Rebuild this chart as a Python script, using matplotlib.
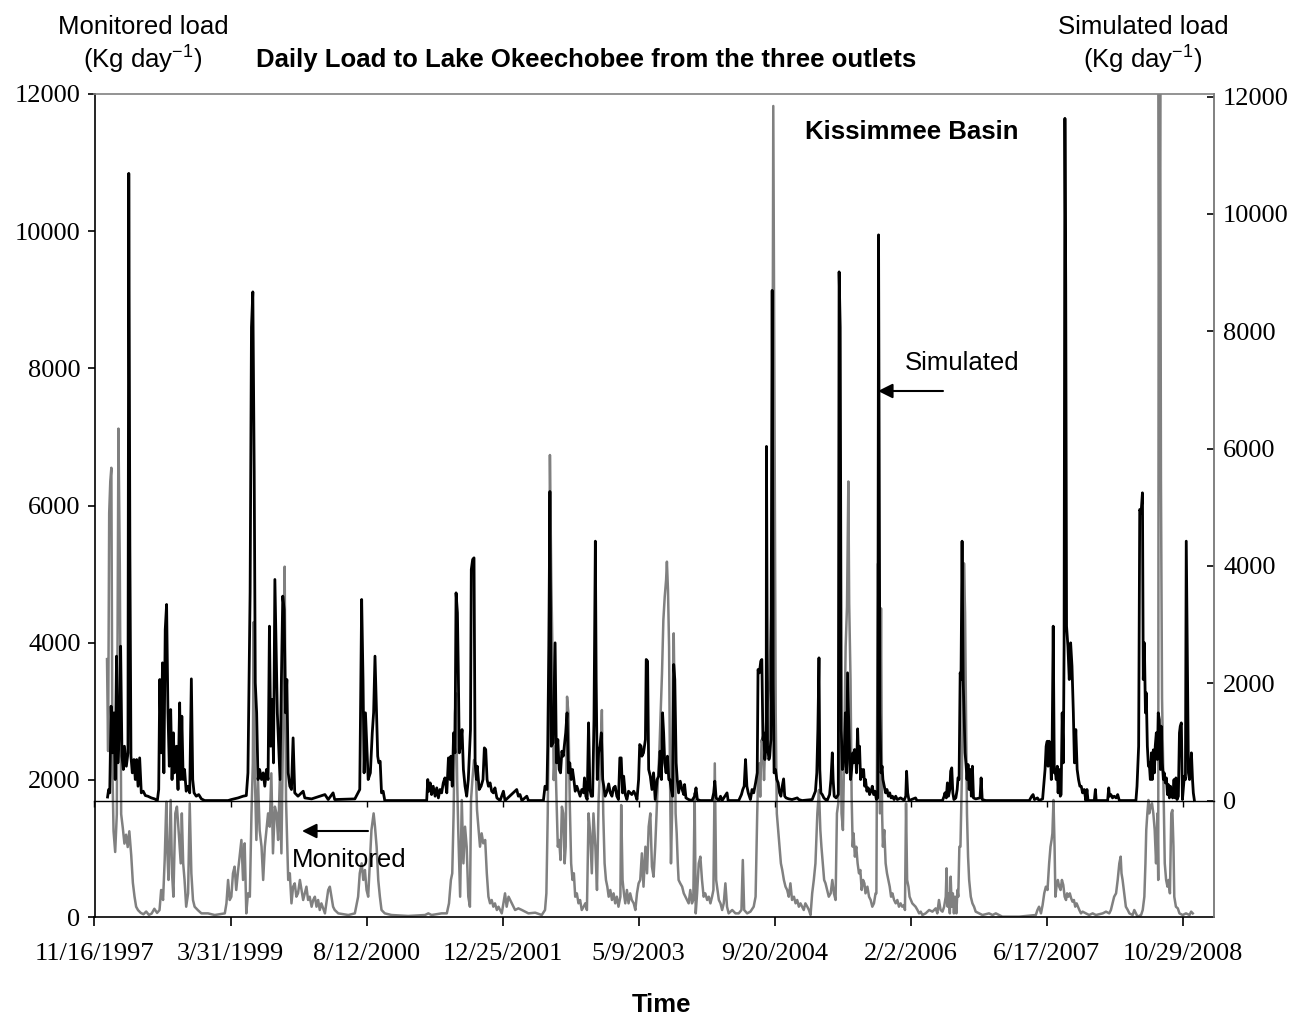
import numpy as np
import pandas as pd
import matplotlib
matplotlib.use('Agg')
import matplotlib.pyplot as plt

# series start date, values are (days since start, load in Kg/day)
start = pd.Timestamp('1997-11-16')
tick_step = 500   # days between date labels
n_ticks = 9
axis_days = 4115  # length of the time axis

# simulated load (right axis)
simulated = [
    (48, 60), (52, 188), (56, 131), (61, 1608), (66, 813), (71, 1495), (76, 358), (81, 2461),
    (86, 642), (91, 1154), (96, 2631), (101, 756), (106, 529), (110, 926), (117, 585), (123, 813),
    (126, 10690), (130, 4336), (134, 756), (139, 472), (145, 699), (150, 358), (155, 699), (160, 244),
    (166, 727), (172, 131), (179, 159), (187, 85), (196, 74), (209, 45), (221, 28), (231, 0),
    (236, 188), (240, 2063), (245, 813), (250, 2347), (255, 472), (260, 2915), (265, 3342), (270, 1495),
    (275, 585), (280, 1551), (285, 358), (290, 1154), (294, 472), (301, 926), (307, 188), (313, 1665),
    (317, 358), (321, 1438), (326, 358), (331, 529), (337, 159), (344, 244), (350, 131), (356, 2074),
    (361, 358), (366, 131), (374, 74), (383, 102), (393, 28), (405, 0), (491, 0), (503, 17),
    (528, 45), (546, 74), (558, 85), (564, 472), (568, 2006), (572, 3550), (577, 8070), (582, 8670),
    (587, 5600), (591, 2006), (596, 1495), (601, 358), (607, 529), (614, 358), (620, 472), (626, 244),
    (632, 529), (638, 358), (643, 2972), (648, 926), (653, 1722), (658, 642), (663, 3768), (667, 2745),
    (672, 1495), (677, 926), (682, 358), (687, 2063), (692, 3484), (697, 3256), (702, 1495), (707, 2063),
    (712, 472), (718, 244), (724, 188), (730, 1068), (736, 131), (748, 74), (761, 131), (767, 159),
    (773, 45), (798, 28), (847, 102), (859, 17), (877, 131), (883, 17), (957, 28), (975, 188),
    (982, 3427), (987, 2063), (991, 472), (996, 1495), (1006, 358), (1014, 472), (1021, 1154), (1026, 1500),
    (1031, 2461), (1041, 756), (1045, 642), (1050, 670), (1055, 131), (1061, 159), (1067, 0), (1221, 0),
    (1225, 358), (1229, 159), (1234, 301), (1239, 102), (1245, 244), (1252, 74), (1258, 216), (1264, 45),
    (1270, 188), (1276, 131), (1282, 301), (1288, 386), (1295, 131), (1301, 727), (1307, 358), (1310, 756),
    (1315, 244), (1320, 1154), (1325, 813), (1329, 3540), (1334, 3200), (1337, 2290), (1341, 813), (1346, 983),
    (1351, 1210), (1356, 529), (1362, 244), (1368, 74), (1374, 358), (1382, 1210), (1385, 3938), (1390, 4109),
    (1395, 4137), (1399, 642), (1404, 358), (1407, 585), (1414, 188), (1421, 244), (1428, 358), (1433, 898),
    (1438, 870), (1443, 358), (1448, 244), (1454, 301), (1460, 159), (1466, 131), (1472, 216), (1479, 45),
    (1491, 0), (1503, 159), (1509, 0), (1552, 188), (1558, 74), (1564, 102), (1571, 0), (1589, 74),
    (1595, 0), (1650, 0), (1656, 244), (1663, 188), (1666, 926), (1670, 2631), (1674, 5268), (1679, 926),
    (1686, 983), (1693, 2688), (1698, 642), (1703, 1040), (1708, 529), (1713, 472), (1718, 841), (1723, 756),
    (1728, 983), (1732, 1154), (1737, 1495), (1742, 472), (1747, 642), (1752, 358), (1757, 529), (1762, 358),
    (1767, 159), (1773, 244), (1779, 159), (1785, 74), (1791, 188), (1798, 131), (1801, 386), (1806, 74),
    (1811, 17), (1816, 1324), (1821, 188), (1826, 74), (1831, 74), (1836, 1381), (1841, 4421), (1844, 2063),
    (1848, 358), (1853, 813), (1858, 926), (1863, 1154), (1868, 358), (1872, 244), (1877, 74), (1884, 159),
    (1890, 284), (1896, 131), (1902, 74), (1908, 216), (1914, 244), (1920, 74), (1926, 17), (1931, 727),
    (1936, 727), (1941, 131), (1945, 415), (1951, 102), (1957, 17), (1963, 159), (1969, 131), (1975, 102),
    (1982, 159), (1988, 102), (1994, 17), (2000, 358), (2004, 955), (2009, 926), (2012, 756), (2018, 813),
    (2025, 1040), (2028, 2404), (2033, 2375), (2037, 529), (2043, 415), (2049, 188), (2055, 472), (2061, 17),
    (2068, 358), (2074, 415), (2079, 841), (2084, 358), (2088, 1495), (2092, 1154), (2096, 642), (2101, 472),
    (2106, 756), (2111, 358), (2115, 358), (2120, 188), (2125, 74), (2129, 2319), (2133, 2063), (2138, 642),
    (2142, 358), (2147, 131), (2153, 330), (2160, 188), (2166, 102), (2169, 273), (2174, 45), (2184, 17),
    (2196, 0), (2206, 74), (2211, 216), (2216, 17), (2227, 0), (2270, 0), (2276, 131), (2280, 330),
    (2285, 45), (2295, 0), (2301, 74), (2307, 0), (2325, 131), (2329, 0), (2368, 0), (2378, 102),
    (2383, 188), (2388, 244), (2393, 699), (2398, 244), (2403, 131), (2411, 17), (2417, 188), (2423, 131),
    (2430, 301), (2436, 472), (2439, 2233), (2444, 2177), (2449, 2375), (2453, 2404), (2457, 1040), (2460, 1154),
    (2464, 699), (2469, 983), (2470, 6036), (2474, 926), (2479, 699), (2482, 756), (2486, 1040), (2491, 8696),
    (2495, 2000), (2498, 472), (2503, 529), (2508, 358), (2513, 301), (2518, 131), (2523, 74), (2528, 244),
    (2533, 369), (2537, 74), (2542, 45), (2552, 28), (2564, 17), (2583, 45), (2589, 17), (2601, 0),
    (2638, 17), (2645, 102), (2650, 159), (2655, 472), (2659, 1210), (2663, 2432), (2666, 529), (2670, 131),
    (2675, 102), (2681, 45), (2687, 17), (2693, 0), (2702, 102), (2707, 358), (2712, 813), (2715, 358),
    (2719, 74), (2726, 45), (2734, 102), (2737, 9011), (2741, 8065), (2745, 1210), (2749, 529), (2752, 585),
    (2756, 756), (2760, 1495), (2765, 472), (2768, 2177), (2772, 1381), (2776, 642), (2779, 358), (2783, 529),
    (2787, 813), (2790, 642), (2794, 870), (2798, 756), (2801, 472), (2805, 1222), (2809, 642), (2812, 926),
    (2816, 358), (2820, 529), (2823, 415), (2827, 529), (2831, 244), (2834, 358), (2839, 159), (2844, 216),
    (2849, 102), (2854, 159), (2859, 244), (2864, 102), (2869, 159), (2874, 17), (2879, 45), (2882, 9642),
    (2887, 1495), (2891, 472), (2895, 585), (2898, 358), (2903, 244), (2908, 131), (2913, 188), (2918, 74),
    (2923, 131), (2928, 45), (2933, 74), (2939, 17), (2945, 74), (2951, 17), (2963, 45), (2976, 5),
    (2982, 74), (2985, 500), (2989, 131), (2994, 0), (3018, 45), (3023, 0), (3117, 0), (3123, 74),
    (3126, 131), (3131, 45), (3135, 301), (3139, 74), (3144, 188), (3147, 500), (3151, 557), (3155, 131),
    (3159, 17), (3166, 45), (3171, 188), (3174, 386), (3178, 358), (3182, 2177), (3185, 2063), (3189, 4421),
    (3193, 2063), (3196, 1495), (3200, 813), (3204, 585), (3207, 358), (3211, 614), (3215, 188), (3220, 529),
    (3223, 74), (3227, 585), (3231, 45), (3239, 28), (3255, 45), (3259, 386), (3263, 17), (3276, 0),
    (3436, 0), (3445, 74), (3450, 102), (3455, 17), (3466, 45), (3472, 0), (3485, 28), (3491, 358),
    (3494, 529), (3498, 926), (3502, 1011), (3505, 585), (3509, 1011), (3513, 870), (3517, 358), (3520, 926),
    (3524, 2972), (3528, 472), (3531, 529), (3535, 358), (3539, 585), (3542, 131), (3546, 529), (3550, 74),
    (3553, 102), (3557, 1495), (3561, 642), (3564, 2631), (3567, 11628), (3570, 8780), (3573, 2972), (3578, 2631),
    (3583, 2063), (3588, 2688), (3593, 2290), (3598, 1495), (3602, 642), (3607, 1210), (3612, 529), (3617, 358),
    (3622, 244), (3627, 244), (3632, 131), (3638, 188), (3644, 0), (3648, 188), (3652, 0), (3675, 0),
    (3679, 188), (3682, 0), (3724, 0), (3728, 216), (3731, 74), (3736, 102), (3742, 45), (3748, 74),
    (3755, 45), (3761, 102), (3767, 0), (3828, 0), (3832, 244), (3838, 926), (3842, 4961), (3847, 4904),
    (3852, 5245), (3855, 2063), (3859, 2688), (3863, 1495), (3866, 1835), (3870, 926), (3874, 585), (3877, 642),
    (3881, 358), (3885, 813), (3888, 358), (3892, 864), (3896, 472), (3899, 926), (3903, 1154), (3907, 699),
    (3910, 1495), (3914, 1381), (3918, 529), (3921, 1267), (3925, 642), (3929, 358), (3932, 472), (3936, 301),
    (3940, 386), (3944, 102), (3947, 273), (3951, 45), (3955, 244), (3958, 102), (3963, 45), (3968, 358),
    (3972, 45), (3975, 386), (3979, 17), (3984, 74), (3988, 1154), (3991, 1267), (3995, 1324), (3999, 17),
    (4002, 188), (4006, 415), (4010, 358), (4013, 4421), (4017, 2404), (4021, 472), (4025, 358), (4028, 472),
    (4032, 813), (4036, 358), (4039, 131), (4043, 0),
]

# monitored load (left axis)
monitored = [
    (46, 3760), (50, 2420), (54, 5890), (58, 6350), (62, 6550), (66, 2114), (70, 1254), (76, 948),
    (82, 1500), (88, 7121), (93, 5118), (98, 1500), (104, 1300), (110, 1070), (116, 1200), (122, 1020),
    (128, 1250), (135, 900), (141, 500), (147, 300), (153, 150), (160, 100), (170, 60), (180, 40),
    (190, 80), (200, 30), (210, 50), (220, 120), (230, 60), (239, 100), (245, 394), (252, 248),
    (258, 831), (264, 1680), (267, 1025), (272, 540), (280, 1706), (285, 637), (290, 296), (297, 1511),
    (303, 1609), (309, 1268), (317, 782), (321, 1511), (326, 782), (331, 540), (337, 150), (344, 345),
    (350, 1657), (356, 637), (362, 248), (368, 150), (380, 100), (393, 53), (417, 53), (442, 29),
    (479, 53), (485, 199), (491, 540), (497, 248), (503, 296), (509, 637), (515, 734), (521, 394),
    (528, 685), (540, 1123), (546, 540), (552, 1074), (558, 53), (564, 345), (571, 296), (577, 1511),
    (582, 2240), (585, 4300), (589, 2143), (595, 1123), (601, 1997), (607, 1268), (614, 1025), (620, 540),
    (626, 1025), (632, 1268), (638, 1511), (644, 1317), (650, 2095), (656, 928), (663, 1609), (669, 1511),
    (675, 1123), (681, 1997), (687, 928), (694, 2969), (699, 5108), (704, 1706), (712, 540), (718, 637),
    (724, 199), (730, 442), (736, 491), (742, 296), (748, 345), (755, 540), (761, 394), (767, 248),
    (773, 345), (779, 442), (785, 248), (791, 296), (798, 150), (804, 248), (810, 296), (816, 150),
    (822, 248), (828, 102), (834, 199), (847, 53), (859, 394), (865, 442), (871, 296), (877, 150),
    (883, 102), (896, 53), (933, 29), (957, 53), (969, 296), (975, 637), (982, 782), (988, 540),
    (994, 685), (1000, 394), (1006, 296), (1012, 782), (1018, 1268), (1026, 1511), (1031, 1317), (1037, 1025),
    (1043, 540), (1049, 296), (1055, 102), (1067, 53), (1092, 29), (1153, 15), (1215, 29), (1227, 53),
    (1239, 29), (1276, 53), (1295, 53), (1303, 199), (1310, 540), (1315, 637), (1320, 1511), (1325, 2969),
    (1329, 3261), (1333, 1997), (1337, 1268), (1344, 296), (1350, 1706), (1356, 782), (1362, 1317), (1368, 1025),
    (1374, 296), (1380, 150), (1384, 1706), (1389, 1997), (1395, 2289), (1401, 2240), (1406, 1560), (1411, 1317),
    (1417, 1025), (1423, 1220), (1429, 1074), (1436, 1123), (1442, 637), (1448, 296), (1454, 199), (1460, 248),
    (1466, 150), (1472, 199), (1479, 102), (1485, 150), (1497, 53), (1509, 345), (1515, 150), (1522, 296),
    (1534, 199), (1546, 102), (1558, 126), (1571, 102), (1583, 78), (1595, 53), (1620, 63), (1644, 29),
    (1656, 102), (1661, 345), (1666, 1511), (1670, 2969), (1674, 6736), (1679, 4913), (1683, 3942), (1688, 1997),
    (1693, 2483), (1698, 1754), (1703, 1025), (1708, 1123), (1713, 831), (1718, 1609), (1723, 1511), (1728, 782),
    (1732, 1025), (1737, 3212), (1742, 2969), (1747, 1657), (1752, 782), (1757, 540), (1762, 637), (1767, 296),
    (1773, 345), (1779, 199), (1785, 248), (1791, 102), (1798, 150), (1804, 199), (1810, 102), (1816, 1511),
    (1822, 1220), (1828, 637), (1834, 1511), (1841, 1025), (1847, 394), (1853, 1706), (1859, 2240), (1865, 3018),
    (1870, 1511), (1875, 782), (1880, 540), (1885, 442), (1890, 296), (1896, 394), (1902, 248), (1908, 345),
    (1914, 199), (1920, 296), (1926, 150), (1933, 296), (1936, 1633), (1941, 540), (1946, 345), (1951, 199),
    (1957, 394), (1963, 199), (1969, 345), (1975, 248), (1982, 199), (1988, 102), (1994, 345), (2000, 491),
    (2006, 540), (2012, 928), (2018, 442), (2025, 1025), (2031, 637), (2037, 1317), (2043, 1511), (2049, 734),
    (2055, 588), (2061, 1025), (2066, 1511), (2071, 1997), (2076, 2386), (2081, 2969), (2086, 3553), (2091, 4330),
    (2096, 4670), (2101, 4913), (2104, 5181), (2108, 4767), (2112, 3942), (2115, 2240), (2119, 782), (2123, 1511),
    (2126, 3455), (2129, 4136), (2133, 2969), (2136, 1511), (2140, 1220), (2144, 782), (2147, 540), (2153, 491),
    (2160, 442), (2166, 345), (2172, 296), (2178, 248), (2184, 199), (2190, 394), (2196, 199), (2201, 248),
    (2206, 1803), (2210, 53), (2215, 345), (2221, 782), (2227, 880), (2233, 540), (2239, 296), (2245, 345),
    (2252, 248), (2258, 296), (2264, 199), (2270, 296), (2275, 394), (2280, 2240), (2285, 540), (2290, 394),
    (2295, 248), (2301, 199), (2307, 102), (2313, 199), (2319, 491), (2325, 150), (2331, 53), (2344, 102),
    (2356, 53), (2368, 53), (2378, 102), (2383, 831), (2388, 102), (2399, 53), (2411, 78), (2423, 150),
    (2430, 296), (2436, 1511), (2439, 1997), (2443, 2240), (2447, 1754), (2452, 2581), (2457, 2483), (2461, 1997),
    (2466, 2629), (2471, 2969), (2476, 3200), (2481, 3455), (2486, 4185), (2491, 4900), (2495, 11825), (2499, 7742),
    (2504, 2969), (2508, 1511), (2513, 1268), (2518, 1025), (2523, 782), (2528, 685), (2534, 540), (2540, 442),
    (2546, 394), (2552, 296), (2558, 491), (2564, 248), (2571, 296), (2577, 199), (2583, 248), (2589, 150),
    (2595, 199), (2601, 150), (2607, 102), (2613, 199), (2620, 150), (2626, 102), (2632, 29), (2638, 345),
    (2644, 540), (2650, 782), (2657, 1511), (2663, 1852), (2668, 1268), (2672, 1025), (2677, 782), (2682, 540),
    (2687, 491), (2693, 394), (2699, 296), (2706, 345), (2712, 540), (2718, 345), (2724, 248), (2729, 1511),
    (2734, 1657), (2737, 3200), (2742, 2969), (2746, 1511), (2751, 1268), (2756, 2483), (2761, 3941), (2766, 4525),
    (2771, 6350), (2774, 4573), (2779, 3455), (2783, 1754), (2787, 1025), (2790, 1220), (2795, 880), (2800, 1025),
    (2805, 782), (2810, 637), (2815, 685), (2820, 394), (2825, 540), (2830, 491), (2834, 345), (2841, 442),
    (2847, 296), (2853, 248), (2859, 150), (2865, 199), (2871, 345), (2874, 345), (2877, 2969), (2880, 5154),
    (2884, 3000), (2887, 1511), (2891, 4500), (2895, 1511), (2898, 1025), (2903, 1268), (2908, 782), (2913, 637),
    (2918, 540), (2923, 442), (2928, 296), (2933, 345), (2939, 248), (2945, 199), (2951, 248), (2957, 150),
    (2963, 199), (2969, 150), (2976, 175), (2979, 102), (2983, 1657), (2987, 540), (2992, 442), (2996, 296),
    (3001, 248), (3006, 199), (3012, 175), (3018, 150), (3025, 102), (3031, 53), (3037, 78), (3043, 29),
    (3055, 53), (3068, 102), (3080, 78), (3092, 126), (3098, 53), (3104, 248), (3110, 102), (3117, 78),
    (3123, 150), (3129, 296), (3132, 710), (3136, 150), (3140, 345), (3144, 53), (3147, 588), (3151, 150),
    (3155, 345), (3159, 53), (3163, 296), (3168, 53), (3172, 394), (3175, 296), (3179, 1025), (3183, 1025),
    (3188, 1997), (3193, 3455), (3196, 5157), (3200, 4427), (3204, 2824), (3207, 1511), (3211, 880), (3215, 540),
    (3221, 296), (3227, 199), (3233, 150), (3239, 78), (3252, 53), (3264, 29), (3288, 53), (3301, 29),
    (3313, 53), (3325, 29), (3337, 5), (3399, 5), (3460, 29), (3466, 102), (3472, 150), (3479, 53),
    (3485, 175), (3491, 345), (3497, 442), (3503, 394), (3509, 782), (3514, 1025), (3518, 1123), (3521, 1220),
    (3525, 1706), (3529, 1025), (3532, 296), (3536, 442), (3541, 540), (3546, 442), (3551, 394), (3556, 540),
    (3561, 467), (3566, 296), (3571, 248), (3575, 345), (3580, 296), (3585, 345), (3590, 272), (3595, 223),
    (3600, 248), (3605, 150), (3610, 199), (3615, 150), (3620, 102), (3626, 53), (3632, 78), (3644, 53),
    (3656, 29), (3669, 53), (3681, 29), (3706, 53), (3718, 78), (3730, 53), (3736, 102), (3742, 199),
    (3748, 296), (3755, 345), (3761, 540), (3767, 782), (3772, 880), (3775, 637), (3779, 540), (3785, 345),
    (3791, 150), (3798, 102), (3804, 53), (3816, 29), (3822, 102), (3828, 53), (3834, 5), (3847, 29),
    (3853, 102), (3859, 296), (3863, 782), (3866, 1268), (3870, 1511), (3874, 1706), (3877, 1511), (3882, 1609),
    (3887, 1657), (3892, 1511), (3897, 1268), (3902, 782), (3907, 1511), (3910, 540), (3912, 12600), (3914, 9000),
    (3917, 12600), (3920, 6357), (3924, 3193), (3929, 1997), (3934, 782), (3939, 540), (3944, 442), (3948, 540),
    (3953, 345), (3958, 1511), (3962, 1560), (3966, 1025), (3969, 296), (3975, 150), (3982, 126), (3988, 53),
    (4000, 29), (4012, 53), (4025, 29), (4031, 78), (4037, 53),
]

sim = pd.DataFrame(simulated, columns=['day', 'load'])
sim['date'] = start + pd.to_timedelta(sim['day'], unit='D')
mon = pd.DataFrame(monitored, columns=['day', 'load'])
mon['date'] = start + pd.to_timedelta(mon['day'], unit='D')

plt.rcParams['font.family'] = 'Liberation Sans'
plt.rcParams['mathtext.default'] = 'regular'

W, H = 1296, 1019
fig = plt.figure(figsize=(W / 100, H / 100), dpi=100)
ax = fig.add_axes([94.5 / W, 1 - 917 / H, (1214 - 94.5) / W, (917 - 94) / H])

gray = '#808080'

# monitored on the left axis
ax.plot(mon['date'], mon['load'], color=gray, lw=1.8)

# simulated on the right axis, drawn on top
ax2 = ax.twinx()
ax2.plot(sim['date'], sim['load'], color='black', lw=2.0)

ax.set_ylim(0, 12000)
ax.set_yticks(range(0, 12001, 2000))
ax2.set_ylim(-1985, 12043)
ax2.set_yticks(range(0, 12001, 2000))

ticks = [start + pd.Timedelta(days=tick_step * k) for k in range(n_ticks)]
ax.set_xlim(start, start + pd.Timedelta(days=axis_days))
ax.set_xticks(ticks)
ax.set_xticklabels([f'{d.month}/{d.day}/{d.year}' for d in ticks])

for s in ['top', 'right']:
    ax.spines[s].set_color(gray)
    ax.spines[s].set_linewidth(1.2)
ax.spines['left'].set_linewidth(1.2)
ax.spines['bottom'].set_linewidth(1.2)
ax2.spines['left'].set_visible(False)
ax2.spines['top'].set_visible(False)
ax2.spines['right'].set_color(gray)
ax2.spines['right'].set_linewidth(1.2)

# secondary time axis crossing at simulated = 0
ax2.xaxis.set_visible(True)
ax2.spines['bottom'].set_position(('data', 0))
ax2.spines['bottom'].set_linewidth(1.0)
ax2.tick_params(axis='x', bottom=True, top=False, labelbottom=False, labeltop=False,
                direction='out', length=4, width=1)

serif = 'Liberation Serif'
ax.tick_params(axis='y', direction='out', length=5, width=1.2, pad=5,
               labelsize=19, labelfontfamily=serif)
ax.tick_params(axis='x', direction='out', length=6.5, width=1.2, pad=12,
               labelsize=19, labelfontfamily=serif)
ax2.tick_params(axis='y', direction='in', length=5, width=1.2, pad=6.5,
                labelsize=19, labelfontfamily=serif, right=True, left=False)


def fx(px):
    return px / W


def fy(py):
    return 1 - py / H


fs = 18.5
fig.text(fx(143), fy(27), 'Monitored load', ha='center', va='center', fontsize=fs)
fig.text(fx(143), fy(60), '(Kg day$^{-1}$)', ha='center', va='center', fontsize=fs)
fig.text(fx(1143), fy(27), 'Simulated load', ha='center', va='center', fontsize=fs)
fig.text(fx(1143), fy(60), '(Kg day$^{-1}$)', ha='center', va='center', fontsize=fs)
fig.text(fx(586), fy(60), 'Daily Load to Lake Okeechobee from the three outlets',
         ha='center', va='center', fontsize=fs, fontweight='bold')
fig.text(fx(912), fy(132), 'Kissimmee Basin', ha='center', va='center',
         fontsize=fs, fontweight='bold')
fig.text(fx(661), fy(1005), 'Time', ha='center', va='center', fontsize=fs, fontweight='bold')

fig.text(fx(962), fy(363), 'Simulated', ha='center', va='center', fontsize=fs)
fig.text(fx(349.5), fy(860), 'Monitored', ha='center', va='center', fontsize=fs)
arrow = dict(arrowstyle='-|>', color='black', lw=1.5, mutation_scale=22,
             shrinkA=0, shrinkB=0)
ax.annotate('', xy=(fx(878), fy(391)), xytext=(fx(943), fy(391)),
            xycoords='figure fraction', textcoords='figure fraction', arrowprops=arrow)
ax.annotate('', xy=(fx(302), fy(831)), xytext=(fx(368), fy(831)),
            xycoords='figure fraction', textcoords='figure fraction', arrowprops=arrow)

fig.savefig('out.png', dpi=100)
